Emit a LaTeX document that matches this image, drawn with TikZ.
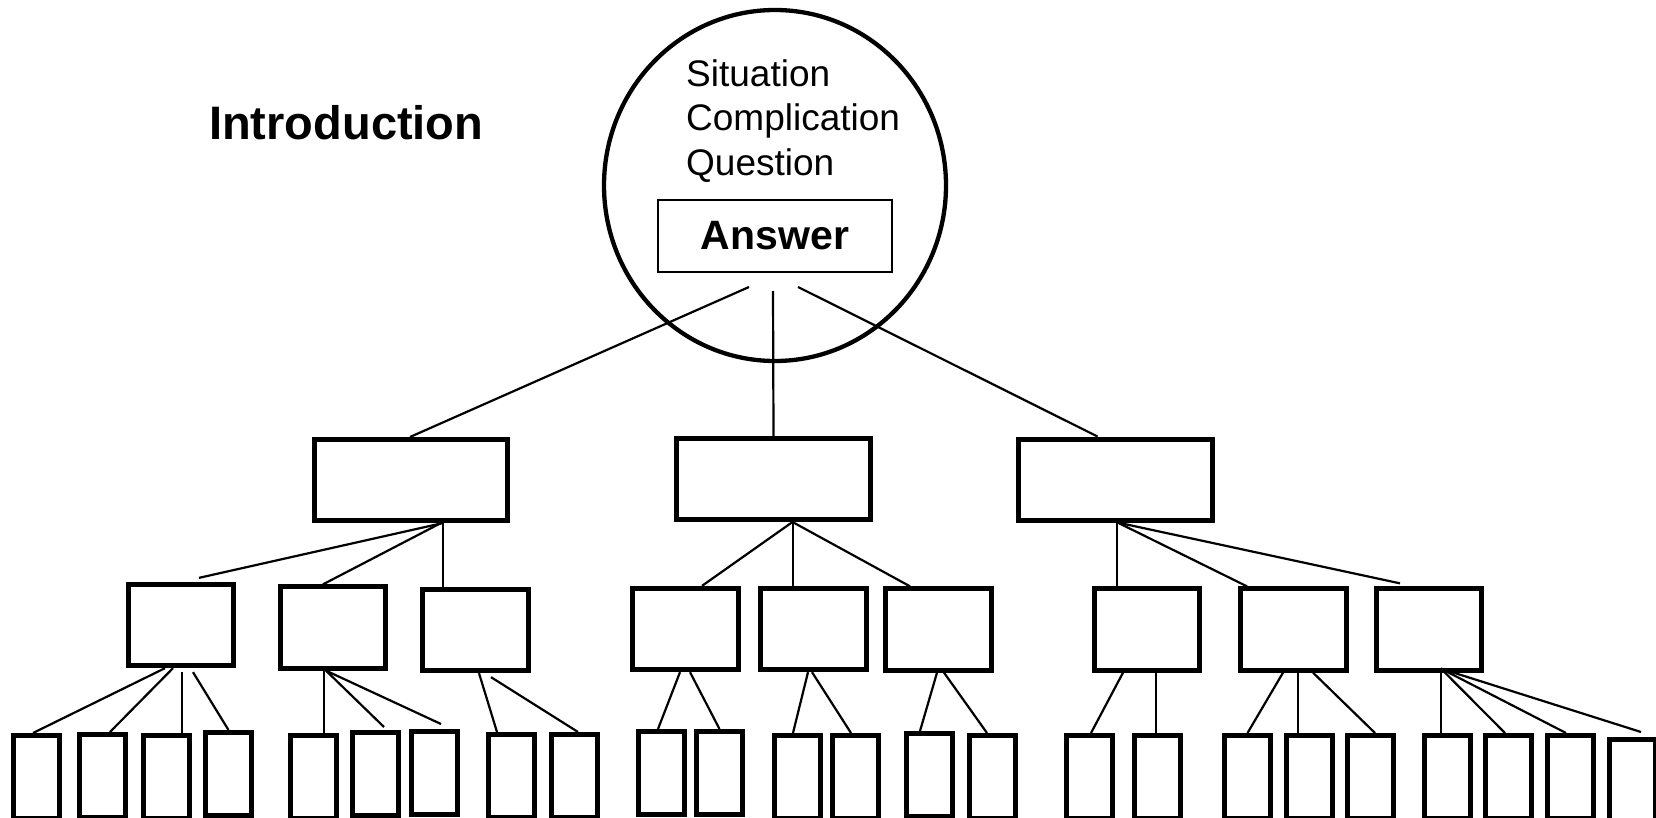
\documentclass[tikz,border=0pt]{standalone}
\usepackage{fontspec}
\setmainfont{Liberation Sans}
\usetikzlibrary{shapes.geometric}

\begin{document}
\begin{tikzpicture}[x=1pt, y=-1pt]
    \tikzset{
        sectbox/.style={
            draw, line width=5pt, inner sep=0pt,
            minimum width=193.5pt, minimum height=81pt
        },
        pointbox/.style={
            draw, line width=5pt, inner sep=0pt,
            minimum width=105.3pt, minimum height=81.3pt
        },
        factbox/.style={
            draw, line width=4.7pt, inner sep=0pt, anchor=north,
            minimum width=46.3pt, minimum height=83.3pt
        },
        scqtext/.style={
            anchor=base west, inner sep=0pt,
            font=\fontsize{37}{44}\selectfont
        },
        link/.style={line width=2.2pt},
    }
    \useasboundingbox (0,0) rectangle (1656,818);

    % ==== Introduction ====
    \node[anchor=base west, inner sep=0pt,
          font=\bfseries\fontsize{47}{56}\selectfont] (intro) at (209,140) {Introduction};
    \node[draw, ellipse, line width=4.3pt, inner sep=0pt,
          minimum width=342pt, minimum height=351pt] (scq) at (775,185.5) {};
    \node[scqtext] (situation) at (686,87) {Situation};
    \node[scqtext] (complication) at (686,131) {Complication};
    \node[scqtext] (question) at (686,176) {Question};
    \node[draw, line width=2pt, inner sep=0pt,
          minimum width=234pt, minimum height=72pt,
          font=\bfseries\fontsize{41}{49}\selectfont] (answer) at (775,236) {Answer};

    % ==== Key lines ====
    \node[sectbox] (b1) at (411,480) {};
    \node[sectbox] (b2) at (773.5,479) {};
    \node[sectbox] (b3) at (1115.5,479.5) {};

    % ==== Supporting points ====
    \node[pointbox] (c11) at (181,625) {};
    \node[pointbox] (c12) at (333,627.5) {};
    \node[pointbox] (c13) at (475.5,630) {};
    \node[pointbox] (c21) at (685.5,629) {};
    \node[pointbox] (c22) at (813.5,629) {};
    \node[pointbox] (c23) at (938.5,629.5) {};
    \node[pointbox] (c31) at (1147,629.5) {};
    \node[pointbox] (c32) at (1293.5,629.5) {};
    \node[pointbox] (c33) at (1429,629.5) {};

    % ==== Facts ====
    \node[factbox] (d1) at (36.5,733) {};
    \node[factbox] (d2) at (102.5,732) {};
    \node[factbox] (d3) at (166.5,733) {};
    \node[factbox] (d4) at (228.5,730) {};
    \node[factbox] (d5) at (313.5,733) {};
    \node[factbox] (d6) at (375.5,730) {};
    \node[factbox] (d7) at (434.5,729) {};
    \node[factbox] (d8) at (511.5,732) {};
    \node[factbox] (d9) at (574.5,732) {};
    \node[factbox] (d10) at (661.5,729) {};
    \node[factbox] (d11) at (719.5,729) {};
    \node[factbox] (d12) at (797.5,733) {};
    \node[factbox] (d13) at (855.5,733) {};
    \node[factbox] (d14) at (929.5,731) {};
    \node[factbox] (d15) at (992.5,733) {};
    \node[factbox] (d16) at (1089.5,733) {};
    \node[factbox] (d17) at (1157.5,733) {};
    \node[factbox] (d18) at (1247.5,733) {};
    \node[factbox] (d19) at (1309.5,733) {};
    \node[factbox] (d20) at (1370.5,733) {};
    \node[factbox] (d21) at (1447.5,733) {};
    \node[factbox] (d22) at (1508.5,733) {};
    \node[factbox] (d23) at (1570.5,733) {};
    \node[factbox] (d24) at (1632.5,737) {};

    % ==== Answer to key lines ====
    \draw[link] ([xshift=-26pt,yshift=-14pt]answer.south) -- ([xshift=-1pt]b1.north);
    \draw[link] ([xshift=-2pt,yshift=-18pt]answer.south) -- (b2.north);
    \draw[link] ([xshift=23pt,yshift=-14pt]answer.south) -- ([xshift=-18pt]b3.north);

    % ==== Key lines to points ====
    \draw[link] ([xshift=32pt]b1.south) -- ([xshift=18pt,yshift=4pt]c11.north);
    \draw[link] ([xshift=30pt]b1.south) -- ([xshift=-10pt]c12.north);
    \draw[link] ([xshift=32pt]b1.south) -- ([xshift=-32.5pt]c13.north);
    \draw[link] ([xshift=19pt]b2.south) -- ([xshift=16.5pt]c21.north);
    \draw[link] ([xshift=19.5pt]b2.south) -- ([xshift=-20.5pt]c22.north);
    \draw[link] ([xshift=19pt]b2.south) -- ([xshift=-28.5pt]c23.north);
    \draw[link] ([xshift=1.5pt]b3.south) -- ([xshift=-30pt]c31.north);
    \draw[link] ([xshift=2pt]b3.south) -- ([xshift=-46.5pt]c32.north);
    \draw[link] ([xshift=2pt]b3.south) -- ([xshift=-29pt,yshift=3pt]c33.north);

    % ==== Points to facts ====
    \draw[link] ([xshift=-16pt]c11.south) -- ([xshift=-3.5pt]d1.north);
    \draw[link] ([xshift=-8pt]c11.south) -- ([xshift=7.5pt]d2.north);
    \draw[link] ([xshift=1pt,yshift=-4pt]c11.south) -- ([xshift=15.5pt]d3.north);
    \draw[link] ([xshift=12pt,yshift=-4pt]c11.south) -- (d4.north);
    \draw[link] ([xshift=-9pt]c12.south) -- ([xshift=10.5pt]d5.north);
    \draw[link] ([xshift=-7pt]c12.south) -- ([xshift=8.5pt,yshift=3pt]d6.north);
    \draw[link] ([xshift=-7pt]c12.south) -- ([xshift=6.5pt,yshift=5pt]d7.north);
    \draw[link] ([xshift=3.5pt]c13.south) -- ([xshift=-14.5pt]d8.north);
    \draw[link] ([xshift=15.5pt,yshift=-4pt]c13.south) -- ([xshift=3.5pt]d9.north);
    \draw[link] ([xshift=-5.5pt]c21.south) -- ([xshift=-3.5pt]d10.north);
    \draw[link] ([xshift=4.5pt]c21.south) -- (d11.north);
    \draw[link] ([xshift=-5.5pt]c22.south) -- ([xshift=-4.5pt]d12.north);
    \draw[link] ([xshift=-1.5pt]c22.south) -- ([xshift=-4.5pt]d13.north);
    \draw[link] ([xshift=-1.5pt]c23.south) -- ([xshift=-9.5pt]d14.north);
    \draw[link] ([xshift=5.5pt]c23.south) -- ([xshift=-5.5pt]d15.north);
    \draw[link] ([xshift=-24pt]c31.south) -- ([xshift=1.5pt]d16.north);
    \draw[link] ([xshift=9pt]c31.south) -- ([xshift=-1.5pt]d17.north);
    \draw[link] ([xshift=-10.5pt]c32.south) -- (d18.north);
    \draw[link] ([xshift=4.5pt]c32.south) -- ([xshift=-11.5pt]d19.north);
    \draw[link] ([xshift=19.5pt]c32.south) -- ([xshift=4.5pt]d20.north);
    \draw[link] ([xshift=12pt,yshift=4pt]c33.south) -- ([xshift=-6.5pt]d21.north);
    \draw[link] ([xshift=12pt,yshift=4pt]c33.south) -- ([xshift=-3.5pt]d22.north);
    \draw[link] ([xshift=12pt,yshift=4pt]c33.south) -- ([xshift=-4.5pt]d23.north);
    \draw[link] ([xshift=12pt,yshift=4pt]c33.south) -- ([xshift=8.5pt,yshift=5pt]d24.north);
\end{tikzpicture}
\end{document}
